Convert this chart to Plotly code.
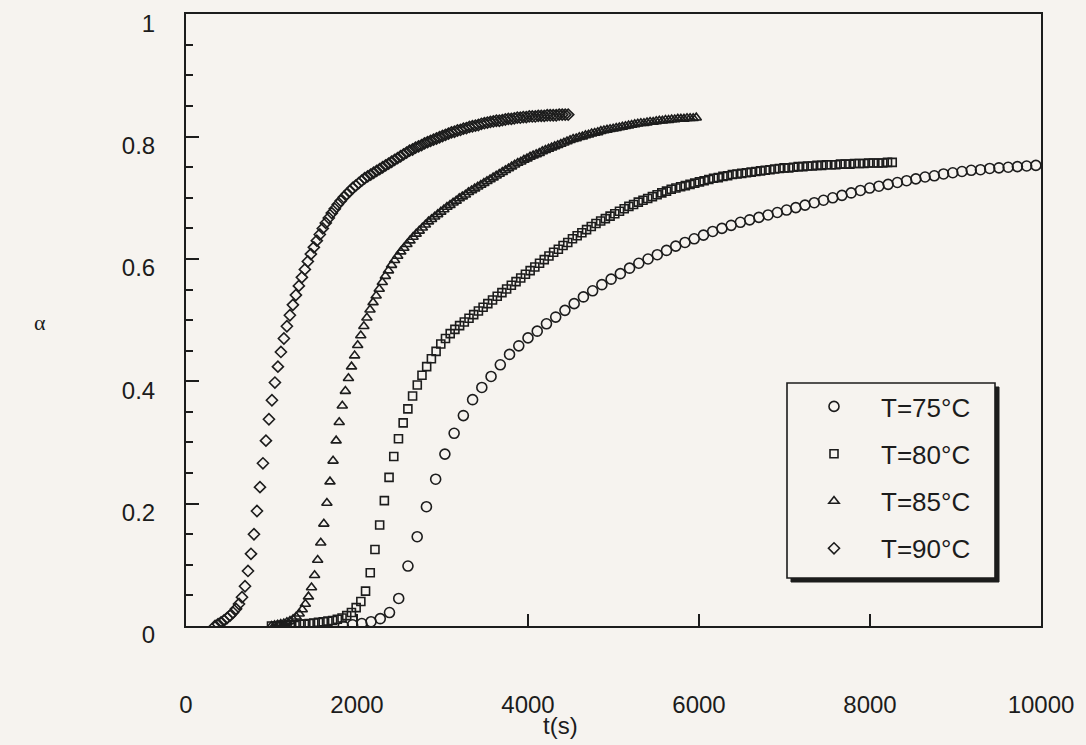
import plotly.graph_objects as go

# ---------------- data ----------------
# sampling: regular time steps per run
t0_75, dt_75 = 1840, 108
t0_80, dt_80 = 1000, 55
t0_85, dt_85 = 1000, 36
t0_90, dt_90 = 340, 35

alpha_75 = [0.000, 0.002, 0.004, 0.007, 0.012, 0.022, 0.045, 0.098, 0.146, 0.195,
            0.240, 0.281, 0.315, 0.344, 0.370, 0.390, 0.408, 0.427, 0.444, 0.458,
            0.471, 0.482, 0.494, 0.505, 0.516, 0.527, 0.538, 0.548, 0.558, 0.567,
            0.576, 0.585, 0.593, 0.600, 0.607, 0.614, 0.621, 0.627, 0.633, 0.639,
            0.645, 0.650, 0.655, 0.660, 0.664, 0.668, 0.672, 0.676, 0.680, 0.684,
            0.688, 0.692, 0.696, 0.700, 0.704, 0.708, 0.712, 0.716, 0.719, 0.722,
            0.725, 0.728, 0.731, 0.734, 0.736, 0.739, 0.741, 0.743, 0.745, 0.746,
            0.748, 0.749, 0.750, 0.751, 0.752, 0.753]

alpha_80 = [0.000, 0.000, 0.001, 0.001, 0.002, 0.002, 0.003, 0.003, 0.004, 0.005,
            0.006, 0.007, 0.008, 0.009, 0.011, 0.013, 0.017, 0.022, 0.030, 0.040,
            0.057, 0.087, 0.125, 0.165, 0.205, 0.243, 0.277, 0.306, 0.332, 0.355,
            0.376, 0.394, 0.410, 0.424, 0.437, 0.449, 0.461, 0.470, 0.478, 0.485,
            0.491, 0.497, 0.503, 0.509, 0.515, 0.521, 0.527, 0.533, 0.539, 0.545,
            0.551, 0.557, 0.563, 0.569, 0.575, 0.581, 0.587, 0.593, 0.599, 0.605,
            0.611, 0.616, 0.622, 0.627, 0.633, 0.638, 0.643, 0.648, 0.653, 0.658,
            0.662, 0.666, 0.670, 0.674, 0.678, 0.682, 0.686, 0.689, 0.693, 0.696,
            0.699, 0.702, 0.705, 0.708, 0.711, 0.714, 0.716, 0.718, 0.720, 0.722,
            0.724, 0.726, 0.728, 0.730, 0.732, 0.733, 0.735, 0.736, 0.738, 0.739,
            0.740, 0.741, 0.742, 0.743, 0.744, 0.745, 0.746, 0.747, 0.748, 0.749,
            0.749, 0.750, 0.751, 0.751, 0.752, 0.752, 0.753, 0.753, 0.754, 0.754,
            0.754, 0.755, 0.755, 0.755, 0.756, 0.756, 0.756, 0.757, 0.757, 0.757,
            0.757, 0.758, 0.758]

alpha_85 = [0.000, 0.001, 0.002, 0.003, 0.004, 0.006, 0.008, 0.011, 0.015, 0.020,
            0.027, 0.036, 0.048, 0.063, 0.083, 0.108, 0.136, 0.167, 0.201, 0.236,
            0.270, 0.303, 0.333, 0.360, 0.384, 0.405, 0.424, 0.442, 0.459, 0.475,
            0.490, 0.504, 0.517, 0.529, 0.540, 0.551, 0.562, 0.572, 0.581, 0.590,
            0.598, 0.605, 0.612, 0.618, 0.624, 0.630, 0.636, 0.641, 0.646, 0.651,
            0.656, 0.661, 0.665, 0.669, 0.673, 0.677, 0.681, 0.685, 0.688, 0.692,
            0.695, 0.699, 0.702, 0.705, 0.709, 0.712, 0.715, 0.718, 0.721, 0.724,
            0.727, 0.730, 0.733, 0.736, 0.739, 0.742, 0.745, 0.748, 0.751, 0.754,
            0.757, 0.759, 0.762, 0.764, 0.767, 0.769, 0.771, 0.773, 0.776, 0.778,
            0.780, 0.782, 0.784, 0.786, 0.788, 0.790, 0.792, 0.794, 0.796, 0.797,
            0.799, 0.800, 0.802, 0.803, 0.805, 0.806, 0.807, 0.809, 0.810, 0.811,
            0.812, 0.813, 0.814, 0.815, 0.816, 0.817, 0.818, 0.819, 0.820, 0.821,
            0.822, 0.822, 0.823, 0.824, 0.824, 0.825, 0.826, 0.826, 0.827, 0.827,
            0.828, 0.828, 0.829, 0.829, 0.829, 0.830, 0.830, 0.830, 0.831]

alpha_90 = [0.000, 0.003, 0.006, 0.009, 0.013, 0.017, 0.022, 0.028, 0.036, 0.047,
            0.065, 0.090, 0.118, 0.150, 0.188, 0.227, 0.266, 0.303, 0.338, 0.369,
            0.398, 0.424, 0.448, 0.470, 0.490, 0.508, 0.525, 0.541, 0.556, 0.570,
            0.583, 0.596, 0.608, 0.619, 0.630, 0.640, 0.650, 0.659, 0.667, 0.675,
            0.682, 0.689, 0.695, 0.701, 0.706, 0.711, 0.716, 0.720, 0.724, 0.728,
            0.732, 0.735, 0.738, 0.741, 0.744, 0.747, 0.750, 0.753, 0.756, 0.759,
            0.762, 0.765, 0.768, 0.771, 0.774, 0.777, 0.779, 0.782, 0.784, 0.786,
            0.789, 0.791, 0.793, 0.795, 0.797, 0.799, 0.801, 0.803, 0.805, 0.807,
            0.808, 0.810, 0.811, 0.813, 0.814, 0.816, 0.817, 0.818, 0.819, 0.821,
            0.822, 0.823, 0.824, 0.825, 0.826, 0.826, 0.827, 0.828, 0.829, 0.829,
            0.830, 0.831, 0.831, 0.832, 0.832, 0.833, 0.833, 0.833, 0.834, 0.834,
            0.834, 0.835, 0.835, 0.835, 0.835, 0.836, 0.836, 0.836, 0.836]

series_names = ["T=75°C", "T=80°C", "T=85°C", "T=90°C"]
x_ticks = [0, 2000, 4000, 6000, 8000, 10000]
x_ticktext = ["0", "2000", "4000", "6000", "8000", "10000"]
y_ticks = [0, 0.2, 0.4, 0.6, 0.8, 1]
y_ticktext = ["0", "0.2", "0.4", "0.6", "0.8", "1"]


def times(t0, dt, n):
    return [t0 + dt * i for i in range(n)]


t_75 = times(t0_75, dt_75, len(alpha_75))
t_80 = times(t0_80, dt_80, len(alpha_80))
t_85 = times(t0_85, dt_85, len(alpha_85))
t_90 = times(t0_90, dt_90, len(alpha_90))

# ---------------- figure ----------------
W, H = 1086, 745
ML, MR, MT, MB = 186, 45, 14, 119
PW, PH = W - ML - MR, H - MT - MB

BG = "#f6f3ef"
INK = "#1c1c1c"
FONT = "Liberation Sans, Arial, sans-serif"


def px_x(px):
    return (px - ML) / PW


def px_y(py):
    return (H - MB - py) / PH


fig = go.Figure()
specs = [
    (t_75, alpha_75, "circle-open", 10),
    (t_80, alpha_80, "square-open", 8),
    (t_85, alpha_85, "triangle-up-open", 9),
    (t_90, alpha_90, "diamond-open", 8.5),
]
for i, ((tx, ay, sym, sz), name) in enumerate(zip(specs, series_names)):
    fig.add_trace(go.Scatter(
        x=tx, y=ay, mode="markers", name=name, legendgroup=f"g{i}",
        marker=dict(symbol=sym, size=sz, color=INK, line=dict(color=INK, width=1.6)),
    ))

# legend frame with a drop shadow (drawn as shapes, legend itself transparent)
box = (787, 383, 995, 578)
fig.add_shape(type="rect", xref="paper", yref="paper", layer="above",
              x0=px_x(box[0] + 4), x1=px_x(box[2] + 4), y0=px_y(box[3] + 4), y1=px_y(box[1] + 4),
              fillcolor=INK, line=dict(color=INK, width=1))
fig.add_shape(type="rect", xref="paper", yref="paper", layer="above",
              x0=px_x(box[0]), x1=px_x(box[2]), y0=px_y(box[3]), y1=px_y(box[1]),
              fillcolor=BG, line=dict(color=INK, width=1.6))

fig.update_layout(
    width=W, height=H,
    margin=dict(l=ML, r=MR, t=MT, b=MB, autoexpand=False),
    paper_bgcolor=BG, plot_bgcolor=BG,
    font=dict(family=FONT, color=INK),
    showlegend=True,
    legend=dict(
        x=px_x(box[0]), y=px_y(box[1]), xanchor="left", yanchor="top",
        bgcolor="rgba(0,0,0,0)", borderwidth=0,
        font=dict(family=FONT, size=26, color=INK),
        tracegroupgap=10.5, itemwidth=84,
    ),
)

fig.update_xaxes(
    range=[0, 10000], tickmode="array", tickvals=x_ticks, ticktext=x_ticktext,
    ticks="inside", ticklen=12, tickwidth=1.5, tickcolor=INK,
    showline=True, linecolor=INK, linewidth=2, mirror=True,
    showgrid=False, zeroline=False, automargin=False,
    tickfont=dict(family=FONT, size=24, color=INK),
    ticklabelstandoff=56,
)
fig.update_yaxes(
    range=[0, 1.0005], tickmode="array", tickvals=y_ticks, ticktext=y_ticktext,
    ticks="inside", ticklen=13, tickwidth=1.5, tickcolor=INK,
    minor=dict(dtick=0.05, ticks="inside", ticklen=7, tickwidth=1.5, tickcolor=INK),
    showline=True, linecolor=INK, linewidth=2, mirror=True,
    showgrid=False, zeroline=False, automargin=False,
    tickfont=dict(family=FONT, size=24, color=INK),
    ticklabelstandoff=24, ticklabelshift=9,
)

# axis titles
fig.add_annotation(text="α", xref="paper", yref="paper", x=px_x(40), y=px_y(322),
                   xanchor="center", yanchor="middle", showarrow=False,
                   font=dict(family="Liberation Serif, serif", size=22, color=INK))
fig.add_annotation(text="t(s)", xref="paper", yref="paper", x=px_x(560), y=px_y(725),
                   xanchor="center", yanchor="middle", showarrow=False,
                   font=dict(family=FONT, size=24, color=INK))

fig.write_html("out.html")
